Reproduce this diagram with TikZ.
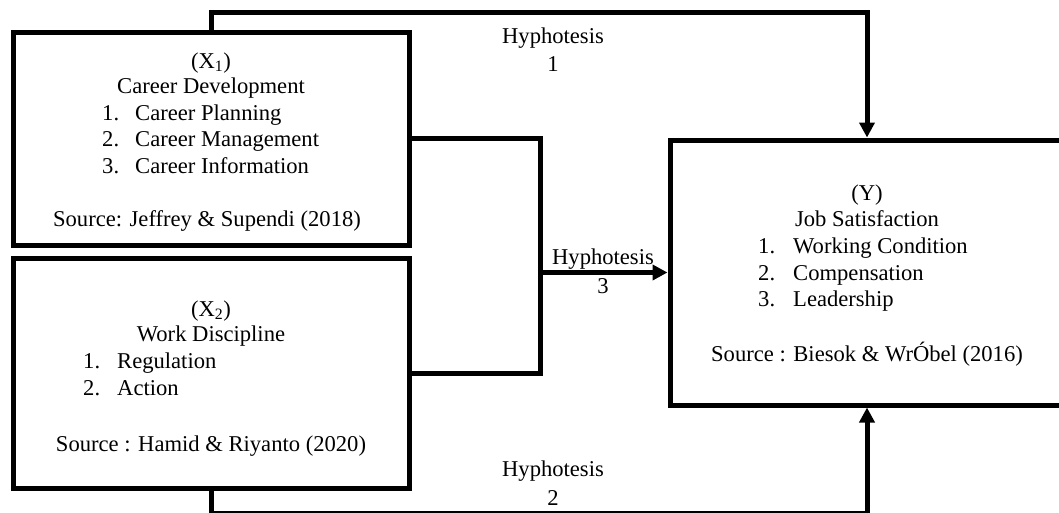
\documentclass[tikz,border=0pt]{standalone}
\usepackage{fontspec}
\setmainfont{Liberation Serif}
\usetikzlibrary{arrows.meta}
\begin{document}
\begin{tikzpicture}[x=1pt,y=-1pt,
  box/.style={draw=black,line width=5pt,inner sep=0pt,fill=none},
  txt/.style={inner sep=0pt,font=\fontsize{22.6}{26.7}\selectfont},
  lbl/.style={inner sep=0pt,align=center,font=\fontsize{22.6}{28.3}\selectfont},
  conn/.style={line width=5pt},
  arr/.style={line width=5pt,-{Triangle[length=15pt,width=15pt]}}]
\useasboundingbox (0,0) rectangle (1059,512);
\begin{scope}
\clip (0,0) rectangle (1059,512);
% boxes
\node[box,minimum width=396pt,minimum height=213pt] (x1) at (211,138.5) {};
\node[box,minimum width=396pt,minimum height=230pt] (x2) at (211,373) {};
\node[box,minimum width=394pt,minimum height=265pt] (y) at (867,272.5) {};
% X1 text
\node[txt,anchor=base] (x1a) at (211,68) {(X\textsubscript{1})};
\node[txt,anchor=base] (x1b) at (211,93.3) {Career Development};
\node[txt,anchor=base west] (x1n1) at (102,120) {1.};
\node[txt,anchor=base west] (x1t1) at (135,120) {Career Planning};
\node[txt,anchor=base west] (x1n2) at (102,146.7) {2.};
\node[txt,anchor=base west] (x1t2) at (135,146.7) {Career Management};
\node[txt,anchor=base west] (x1n3) at (102,173.3) {3.};
\node[txt,anchor=base west] (x1t3) at (135,173.3) {Career Information};
\node[txt,anchor=base] (x1s) at (207,226.7) {Source: Jeffrey \& Supendi (2018)};
% X2 text
\node[txt,anchor=base] (x2a) at (211,316.5) {(X\textsubscript{2})};
\node[txt,anchor=base] (x2b) at (211,341.7) {Work Discipline};
\node[txt,anchor=base west] (x2n1) at (83,368.3) {1.};
\node[txt,anchor=base west] (x2t1) at (117,368.3) {Regulation};
\node[txt,anchor=base west] (x2n2) at (83,395) {2.};
\node[txt,anchor=base west] (x2t2) at (117,395) {Action};
\node[txt,anchor=base] (x2s) at (211,451.7) {Source : Hamid \& Riyanto (2020)};
% Y text
\node[txt,anchor=base] (ya) at (867,200) {(Y)};
\node[txt,anchor=base] (yb) at (867,226.7) {Job Satisfaction};
\node[txt,anchor=base west] (yn1) at (758,253.3) {1.};
\node[txt,anchor=base west] (yt1) at (793,253.3) {Working Condition};
\node[txt,anchor=base west] (yn2) at (758,280) {2.};
\node[txt,anchor=base west] (yt2) at (793,280) {Compensation};
\node[txt,anchor=base west] (yn3) at (758,306.7) {3.};
\node[txt,anchor=base west] (yt3) at (793,306.7) {Leadership};
\node[txt,anchor=base] (ys) at (867,361.7) {Source : Biesok \& WrÓbel (2016)};
% connectors
\coordinate (tl) at (211,12);
\coordinate (tr) at (867,12);
\coordinate (bl) at (211,513.5);
\coordinate (br) at (867,513.5);
\coordinate (j1) at (540,138.5);
\coordinate (j2) at (540,373);
\coordinate (jm) at (540,272.5);
\draw[arr] (x1.north) -- (tl) -- (tr) -- (y.north);
\draw[arr] (x2.south) -- (bl) -- (br) -- (y.south);
\draw[conn] (x1.east) -- (j1) -- (j2) -- (x2.east);
\draw[arr] (jm) -- (y.west);
% labels
\node[lbl,anchor=base] (h1) at (553,71.7) {Hyphotesis\\1};
\node[lbl,anchor=base] (h3) at (603,293) {Hyphotesis\\3};
\node[lbl,anchor=base] (h2) at (553,505) {Hyphotesis\\2};
\end{scope}
\end{tikzpicture}
\end{document}
